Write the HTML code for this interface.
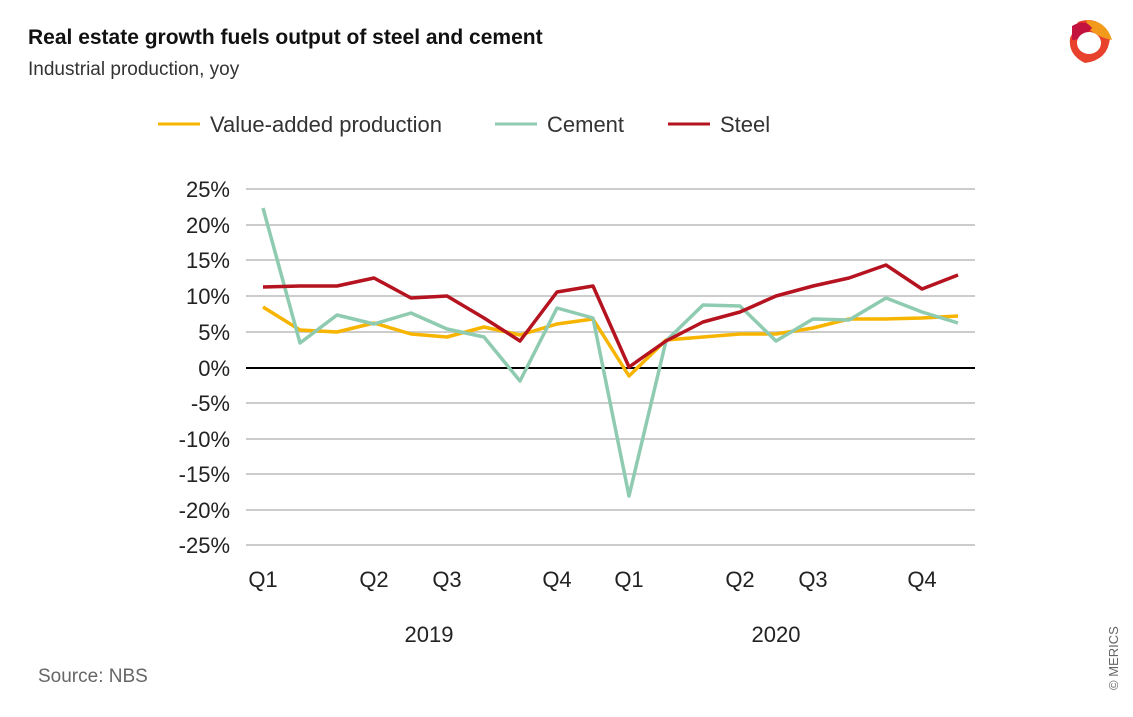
<!DOCTYPE html>
<html><head><meta charset="utf-8"><style>
body{margin:0;width:1133px;height:712px;background:#fff;font-family:"Liberation Sans",sans-serif;overflow:hidden}
</style></head><body>
<svg width="1133" height="712" xmlns="http://www.w3.org/2000/svg" font-family="Liberation Sans, sans-serif">
<text x="28" y="44" font-size="21" font-weight="bold" fill="#111">Real estate growth fuels output of steel and cement</text>
<text x="28" y="75" font-size="19" fill="#333">Industrial production, yoy</text>
<g>
<path d="M1078 22 Q1100 14 1110 38 Q1108 60 1085 63 Q1068 55 1070 38 Z" fill="#e8412c"/>
<path d="M1086 20 Q1106 20 1112 40 Q1100 38 1090 30 Z" fill="#f19a1c"/>
<path d="M1072 26 Q1085 18 1092 28 Q1082 40 1072 40 Z" fill="#c4123f"/>
<ellipse cx="1089" cy="43" rx="12" ry="11" fill="#fff"/>
</g>
<g stroke-width="3">
<line x1="158" y1="124" x2="200" y2="124" stroke="#f7b400"/>
<line x1="495" y1="124" x2="537" y2="124" stroke="#8ecbb0"/>
<line x1="668" y1="124" x2="710" y2="124" stroke="#b5131f"/>
</g>
<g font-size="22" fill="#333">
<text x="210" y="132">Value-added production</text>
<text x="547" y="132">Cement</text>
<text x="720" y="132">Steel</text>
</g>
<g stroke="#ccc" stroke-width="2">
<line x1="246" x2="975" y1="189" y2="189"/><line x1="246" x2="975" y1="225" y2="225"/>
<line x1="246" x2="975" y1="260" y2="260"/><line x1="246" x2="975" y1="296" y2="296"/>
<line x1="246" x2="975" y1="332" y2="332"/><line x1="246" x2="975" y1="403" y2="403"/>
<line x1="246" x2="975" y1="439" y2="439"/><line x1="246" x2="975" y1="474" y2="474"/>
<line x1="246" x2="975" y1="510" y2="510"/><line x1="246" x2="975" y1="545" y2="545"/>
</g>
<line x1="246" x2="975" y1="368" y2="368" stroke="#000" stroke-width="2"/>
<g font-size="22" fill="#222" text-anchor="end">
<text x="230" y="197">25%</text><text x="230" y="233">20%</text><text x="230" y="268">15%</text>
<text x="230" y="304">10%</text><text x="230" y="340">5%</text><text x="230" y="376">0%</text>
<text x="230" y="411">-5%</text><text x="230" y="447">-10%</text><text x="230" y="482">-15%</text>
<text x="230" y="518">-20%</text><text x="230" y="553">-25%</text>
</g>
<g font-size="22" fill="#222" text-anchor="middle">
<text x="263" y="587">Q1</text><text x="374" y="587">Q2</text><text x="447" y="587">Q3</text><text x="557" y="587">Q4</text>
<text x="629" y="587">Q1</text><text x="740" y="587">Q2</text><text x="813" y="587">Q3</text><text x="922" y="587">Q4</text>
<text x="429" y="642">2019</text><text x="776" y="642">2020</text>
</g>
<text x="38" y="682" font-size="19" fill="#666">Source: NBS</text>
<text transform="translate(1118,690) rotate(-90)" font-size="13" fill="#666">© MERICS</text>
<g fill="none" stroke-width="3.5" stroke-linejoin="round">
<polyline stroke="#f7b400" points="263,307 300,330 337,332 374,323 411,334 447,337 484,327 520,335 557,324 593,319 629,376 666,340 703,337 740,334 776,334 813,328 849,319 886,319 922,318 958,316"/>
<polyline stroke="#8ecbb0" points="263,208 300,343 337,315 374,324 411,313 447,329 484,337 520,381 557,308 593,318 629,496 666,341 703,305 740,306 776,341 813,319 849,320 886,298 922,312 958,323"/>
<polyline stroke="#b5131f" points="263,287 300,286 337,286 374,278 411,298 447,296 484,318 520,341 557,292 593,286 629,367 666,341 703,322 740,312 776,296 813,286 849,278 886,265 922,289 958,275"/>
</g>
</svg>
</body></html>
